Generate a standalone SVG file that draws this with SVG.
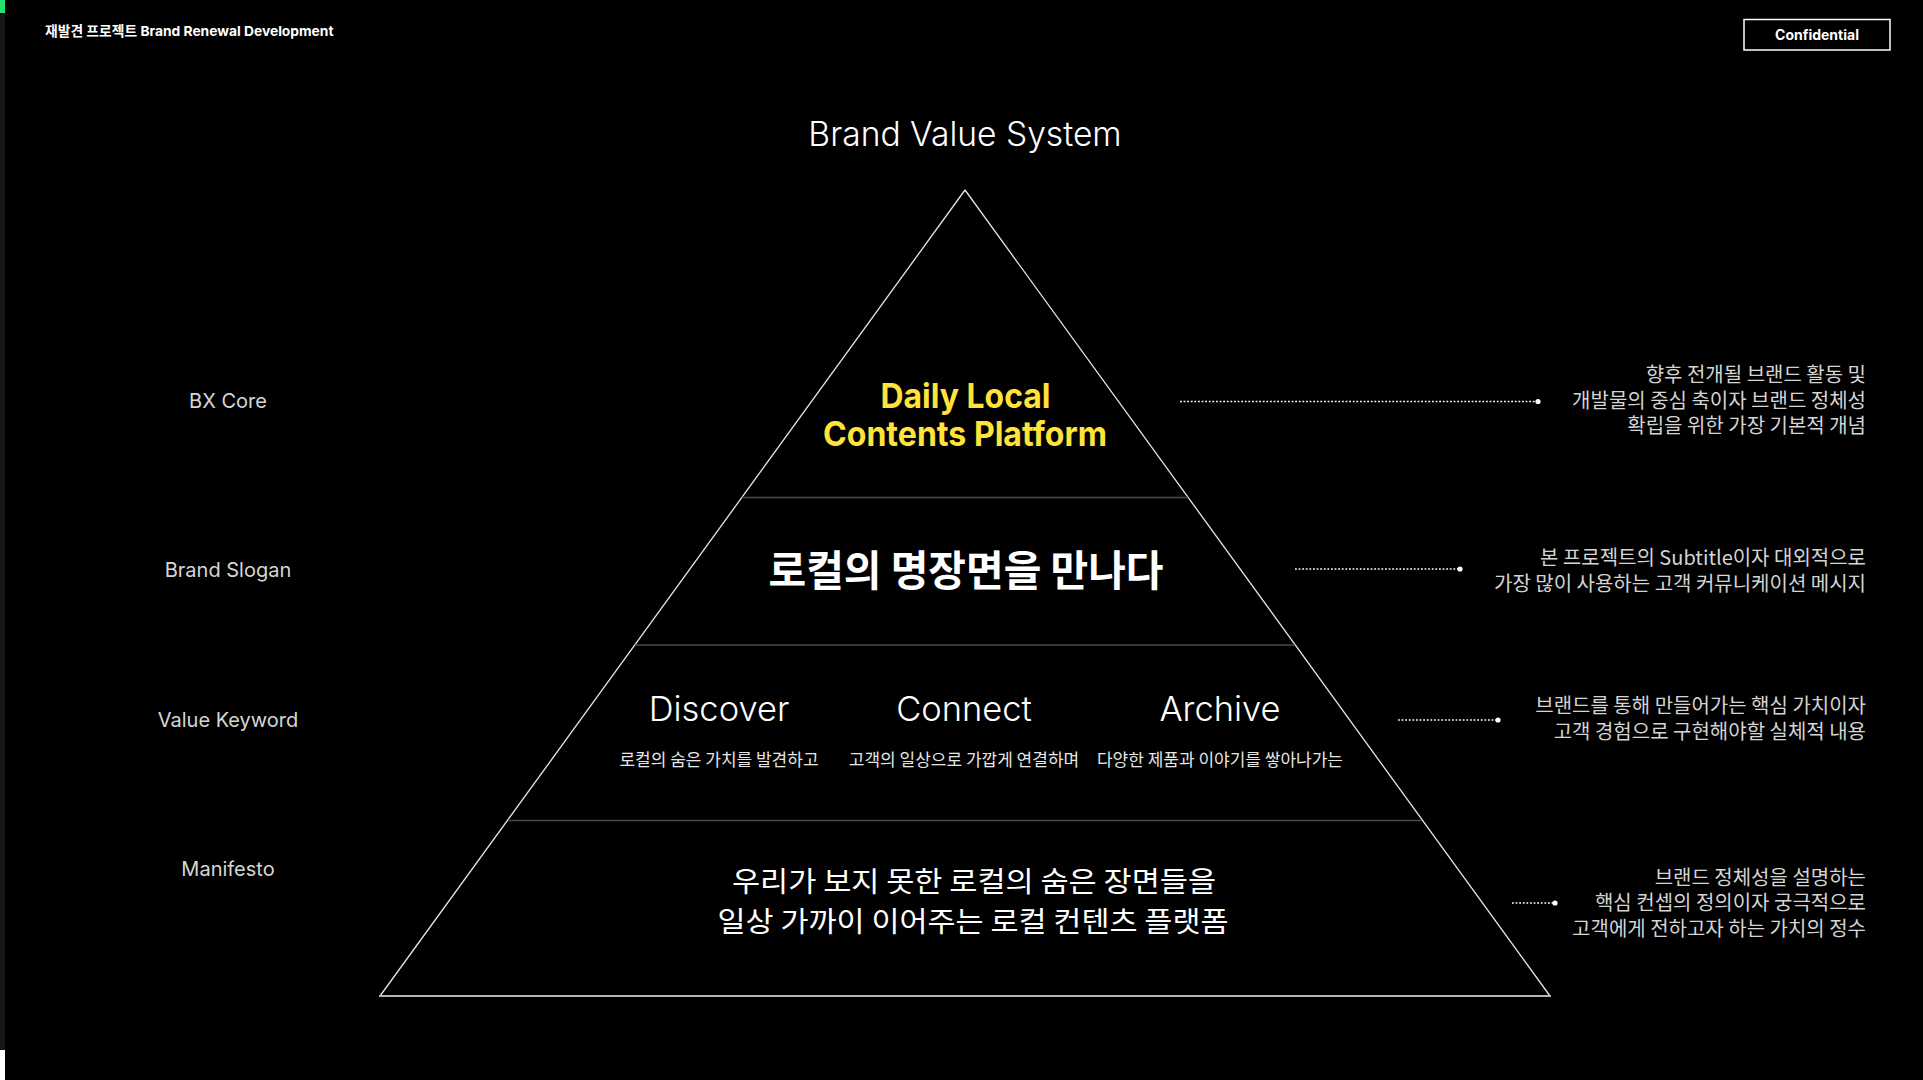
<svg xmlns="http://www.w3.org/2000/svg" width="1923" height="1080" viewBox="0 0 1923 1080">
<style>
.lat{font-family:Inter,"Noto Sans CJK KR",sans-serif}
.kr{font-family:"Noto Sans CJK KR",sans-serif}
.lbl{font-family:Inter,sans-serif;font-size:20px;fill:#d6d6d6;text-anchor:middle}
.desc{font-family:"Noto Sans CJK KR",sans-serif;font-size:20px;fill:#d4d4d4;text-anchor:end}
.kw{font-family:Inter,sans-serif;font-size:34.5px;font-weight:300;fill:#fff;text-anchor:middle}
.sub{font-family:"Noto Sans CJK KR",sans-serif;font-size:17px;fill:#e6e6e6;text-anchor:middle}
.side{stroke:#e8e8e8;stroke-width:1.3;fill:none}
.div{stroke:#4a4a4a;stroke-width:1.5}
.dot{stroke:#fff;stroke-width:1.4;stroke-dasharray:1.8 1.8;fill:none}
</style>
<rect width="1923" height="1080" fill="#000"/>
<g id="edge-strip">
<rect x="0" y="0" width="5" height="1080" fill="#161616"/>
<rect x="0" y="0" width="5" height="13" fill="#22e36b"/>
<rect x="0" y="1050" width="5" height="30" fill="#fff"/>
</g>
<g id="header">
<text class="lat" x="45" y="36" font-size="13.8" font-weight="700" fill="#fff">재발견 프로젝트 Brand Renewal Development</text>
</g>
<g id="confidential">
<rect x="1744" y="19.5" width="146" height="30.5" fill="none" stroke="#fff" stroke-width="1.5"/>
<text class="lat" x="1817" y="39.5" font-size="14" font-weight="700" fill="#fff" text-anchor="middle">Confidential</text>
</g>
<g id="title">
<text class="lat" x="965" y="146" font-size="33.6" font-weight="300" fill="#fff" text-anchor="middle">Brand Value System</text>
</g>
<g id="pyramid">
<line class="side" x1="965" y1="190" x2="380" y2="996"/>
<line class="side" x1="965" y1="190" x2="1550" y2="996"/>
<line class="div" x1="742" y1="497.5" x2="1188" y2="497.5"/>
<line class="div" x1="635" y1="645" x2="1295" y2="645"/>
<line class="div" x1="508" y1="820.5" x2="1422" y2="820.5"/>
<line x1="379" y1="996" x2="1551" y2="996" stroke="#b4b4b4" stroke-width="2"/>
</g>
<g id="tier-bx-core">
<text class="lbl" x="228" y="408">BX Core</text>
<text class="lat" x="965.5" y="407.5" font-size="34" font-weight="700" fill="#ffe23a" text-anchor="middle" textLength="170" lengthAdjust="spacingAndGlyphs">Daily Local</text>
<text class="lat" x="965" y="446" font-size="34" font-weight="700" fill="#ffe23a" text-anchor="middle" textLength="284" lengthAdjust="spacingAndGlyphs">Contents Platform</text>
<text class="desc" x="1866" y="381.5">향후 전개될 브랜드 활동 및</text>
<text class="desc" x="1866" y="407.5">개발물의 중심 축이자 브랜드 정체성</text>
<text class="desc" x="1866" y="433">확립을 위한 가장 기본적 개념</text>
</g>
<g id="tier-brand-slogan">
<text class="lbl" x="228" y="577">Brand Slogan</text>
<text class="kr" x="966" y="586" font-size="42" font-weight="700" fill="#fff" text-anchor="middle" textLength="395" lengthAdjust="spacingAndGlyphs">로컬의 명장면을 만나다</text>
<text class="desc" x="1866" y="564.5">본 프로젝트의 Subtitle이자 대외적으로</text>
<text class="desc" x="1866" y="590.5">가장 많이 사용하는 고객 커뮤니케이션 메시지</text>
</g>
<g id="tier-value-keyword">
<text class="lbl" x="228" y="727">Value Keyword</text>
<text class="kw" x="719" y="721">Discover</text>
<text class="kw" x="964" y="721">Connect</text>
<text class="kw" x="1220" y="721">Archive</text>
<text class="sub" x="719" y="765.5">로컬의 숨은 가치를 발견하고</text>
<text class="sub" x="964" y="765.5">고객의 일상으로 가깝게 연결하며</text>
<text class="sub" x="1220" y="765.5">다양한 제품과 이야기를 쌓아나가는</text>
<text class="desc" x="1866" y="712.5">브랜드를 통해 만들어가는 핵심 가치이자</text>
<text class="desc" x="1866" y="738.5">고객 경험으로 구현해야할 실체적 내용</text>
</g>
<g id="tier-manifesto">
<text class="lbl" x="228" y="876">Manifesto</text>
<text class="kr" x="974" y="892" font-size="28.5" fill="#fff" text-anchor="middle" textLength="484" lengthAdjust="spacingAndGlyphs">우리가 보지 못한 로컬의 숨은 장면들을</text>
<text class="kr" x="973" y="932" font-size="28.5" fill="#fff" text-anchor="middle" textLength="511" lengthAdjust="spacingAndGlyphs">일상 가까이 이어주는 로컬 컨텐츠 플랫폼</text>
<text class="desc" x="1866" y="884.5">브랜드 정체성을 설명하는</text>
<text class="desc" x="1866" y="910">핵심 컨셉의 정의이자 궁극적으로</text>
<text class="desc" x="1866" y="935.5">고객에게 전하고자 하는 가치의 정수</text>
</g>
<g id="connectors">
<line class="dot" x1="1180" y1="401.5" x2="1537" y2="401.5"/>
<circle cx="1538" cy="401.5" r="2.6" fill="#fff"/>
<line class="dot" x1="1295" y1="569" x2="1459" y2="569"/>
<circle cx="1460" cy="569" r="2.6" fill="#fff"/>
<line class="dot" x1="1398" y1="720" x2="1497" y2="720"/>
<circle cx="1498" cy="720" r="2.6" fill="#fff"/>
<line class="dot" x1="1512" y1="903" x2="1554" y2="903"/>
<circle cx="1555" cy="903" r="2.6" fill="#fff"/>
</g>
</svg>
